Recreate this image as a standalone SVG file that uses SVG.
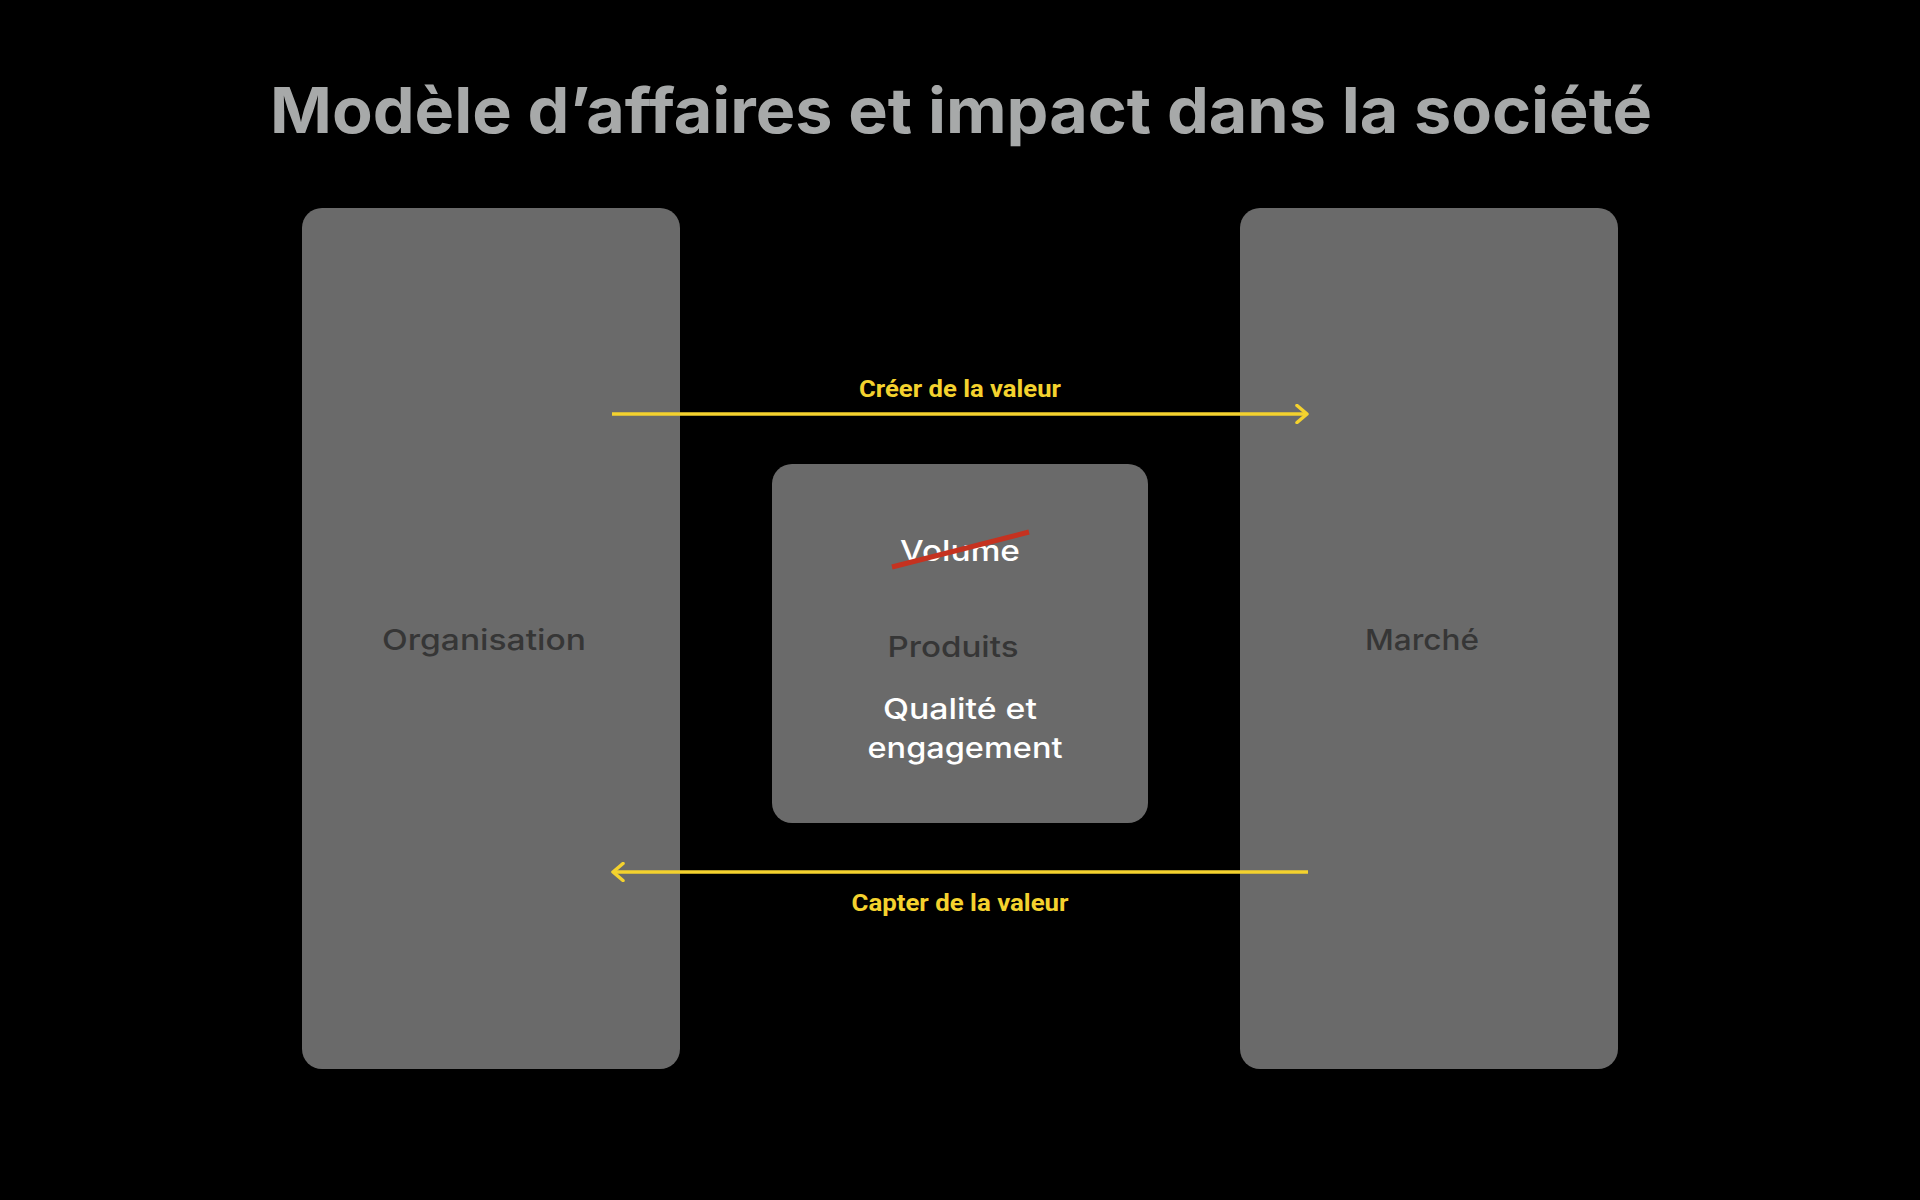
<svg xmlns="http://www.w3.org/2000/svg" width="1920" height="1200" viewBox="0 0 1920 1200">
<defs>
<style>
.box{fill:#6a6a6a}
.lbl{font-family:Inter,"Open Sans","Liberation Sans",sans-serif;font-weight:500;font-size:29px;fill:#363636;text-anchor:middle}
.wht{font-family:Inter,"Open Sans","Liberation Sans",sans-serif;font-weight:500;font-size:29px;fill:#ffffff;text-anchor:middle}
.yl{font-family:Roboto,"Liberation Sans",sans-serif;font-weight:700;font-size:24px;fill:#f4d22e;text-anchor:middle}
.conn{stroke:#f4d22e;stroke-width:3.5;fill:none}
</style>
<marker id="arr" viewBox="0 0 14 20" refX="12" refY="10" markerWidth="14" markerHeight="20" markerUnits="userSpaceOnUse" orient="auto">
<path d="M2,1.5 L12,10 L2,18.5" fill="none" stroke="#f4d22e" stroke-width="3.5" stroke-linecap="round" stroke-linejoin="round"/>
</marker>
</defs>
<rect width="1920" height="1200" fill="#000"/>
<text x="961" y="133" font-family="Inter,Lato,'Liberation Sans',sans-serif" font-weight="700" font-size="63" fill="#a7a9a9" text-anchor="middle" textLength="1382" lengthAdjust="spacingAndGlyphs">Modèle d’affaires et impact dans la société</text>

<g id="organisation">
<rect class="box" x="302" y="208" width="378" height="861" rx="20"/>
<text class="lbl" x="484" y="650" textLength="204" lengthAdjust="spacingAndGlyphs">Organisation</text>
</g>
<g id="marche">
<rect class="box" x="1240" y="208" width="378" height="861" rx="20"/>
<text class="lbl" x="1422" y="650" textLength="114" lengthAdjust="spacingAndGlyphs">Marché</text>
</g>
<g id="produits">
<rect class="box" x="772" y="464" width="376" height="359" rx="20"/>
<text class="wht" x="960" y="561" textLength="120" lengthAdjust="spacingAndGlyphs">Volume</text>
<line x1="892" y1="567" x2="1029" y2="532" stroke="#c53220" stroke-width="5"/>
<text class="lbl" x="953" y="657" textLength="131" lengthAdjust="spacingAndGlyphs">Produits</text>
<text class="wht" x="960" y="719" textLength="154" lengthAdjust="spacingAndGlyphs">Qualité et</text>
<text class="wht" x="965" y="758" textLength="195" lengthAdjust="spacingAndGlyphs">engagement</text>
</g>
<g id="connectors">
<line class="conn" x1="612" y1="414" x2="1307" y2="414" marker-end="url(#arr)"/>
<text class="yl" x="960" y="397" textLength="202" lengthAdjust="spacingAndGlyphs">Créer de la valeur</text>
<line class="conn" x1="1308" y1="872" x2="613" y2="872" marker-end="url(#arr)"/>
<text class="yl" x="960" y="911" textLength="217" lengthAdjust="spacingAndGlyphs">Capter de la valeur</text>
</g>
</svg>
